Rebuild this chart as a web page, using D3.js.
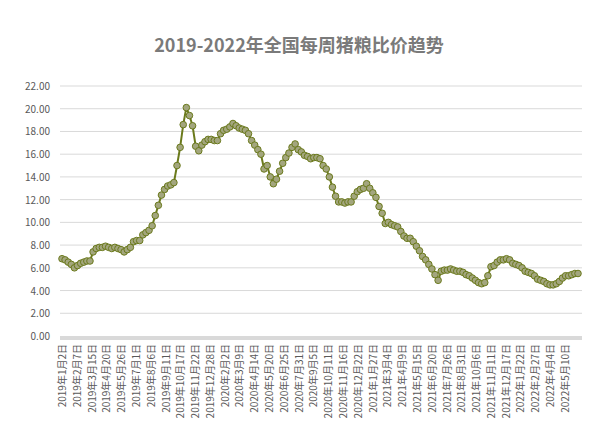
<!DOCTYPE html>
<html><head><meta charset="utf-8">
<script src="https://cdn.jsdelivr.net/npm/d3@7"></script>
<style>body{margin:0;background:#fff}</style>
</head><body><svg id="c" width="598" height="435"></svg>
<script>
const title = "2019-2022年全国每周猪粮比价趋势";
const values = [6.8,6.7,6.5,6.3,6.0,6.2,6.4,6.5,6.6,6.6,7.4,7.7,7.8,7.8,7.9,7.8,7.7,7.8,7.7,7.6,7.4,7.6,7.8,8.3,8.4,8.4,8.9,9.1,9.3,9.7,
10.6,11.5,12.4,12.9,13.2,13.3,13.5,15.0,16.6,18.6,20.1,19.4,18.5,16.7,16.3,16.8,17.1,17.3,17.3,17.2,17.2,17.8,18.1,
18.2,18.4,18.7,18.5,18.3,18.2,18.1,17.8,17.2,16.8,16.4,16.0,14.7,15.0,14.0,13.4,13.8,14.5,15.2,15.7,16.1,16.6,16.9,16.4,16.2,15.9,
15.8,15.6,15.7,15.7,15.6,15.0,14.7,14.0,13.1,12.3,11.8,11.8,11.7,11.8,11.8,12.3,12.7,12.9,13.0,13.4,13.0,12.6,12.2,11.4,10.8,9.9,
10.0,9.8,9.7,9.6,9.2,8.8,8.6,8.6,8.3,7.9,7.5,7.0,6.7,6.3,5.9,5.4,4.9,5.7,5.8,5.8,5.9,5.8,5.7,5.7,5.6,5.4,5.3,5.1,4.9,4.7,4.6,4.7,
5.3,6.1,6.2,6.5,6.7,6.7,6.8,6.7,6.4,6.3,6.2,6.0,5.7,5.6,5.5,5.3,5.0,4.9,4.8,4.6,4.5,4.5,4.6,4.8,5.1,5.3,5.3,5.4,5.5,5.5];
const tickLabels = ["2019年1月2日","2019年2月7日","2019年3月15日","2019年4月20日","2019年5月26日","2019年7月1日","2019年8月6日",
"2019年9月11日","2019年10月17日","2019年11月22日","2019年12月28日","2020年2月2日","2020年3月9日","2020年4月14日","2020年5月20日",
"2020年6月25日","2020年7月31日","2020年9月5日","2020年10月11日","2020年11月16日","2020年12月22日","2021年1月27日","2021年3月4日",
"2021年4月9日","2021年5月15日","2021年6月20日","2021年7月26日","2021年8月31日","2021年10月6日","2021年11月11日","2021年12月17日",
"2022年1月22日","2022年2月27日","2022年4月4日","2022年5月10日"];
const startDate = new Date(2019, 0, 2);
const tickDays = 36;     // spacing of date labels
const spanDays = 1256;   // days covered by the series
const yTicks = d3.range(0, 22.01, 2);

const svg = d3.select("#c");
const font = "'Microsoft YaHei','Noto Sans CJK SC',sans-serif";
const L = 60, R = 582, T = 86, B = 336;

const x = d3.scaleLinear().domain([0, values.length - 1]).range([L + 2, R - 4]);
const xt = d3.scaleTime().domain([startDate, d3.timeDay.offset(startDate, spanDays)]).range([L + 2, R - 4]);
const y = d3.scaleLinear().domain([0, 22]).range([B, T]);

svg.append("text").attr("x", 299).attr("y", 52).attr("text-anchor", "middle")
  .attr("font-family", font).attr("font-size", 18).attr("font-weight", "bold")
  .attr("fill", "#7a7a7a").text(title);

// gridlines
svg.append("g").selectAll("line").data(yTicks.slice(1)).join("line")
  .attr("x1", L).attr("x2", R).attr("y1", d => y(d)).attr("y2", d => y(d))
  .attr("stroke", "#d9d9d9").attr("stroke-width", 1);

svg.append("g").selectAll("text").data(yTicks).join("text")
  .attr("x", L - 10).attr("y", d => y(d) + 4).attr("text-anchor", "end")
  .attr("font-family", font).attr("font-size", 10).attr("fill", "#595959")
  .text(d => d.toFixed(2));

// axis band
svg.append("rect").attr("x", L).attr("y", B).attr("width", R - L).attr("height", 4).attr("fill", "#d9d9d9");

svg.append("g").selectAll("text").data(tickLabels).join("text")
  .attr("transform", (d, i) => `translate(${xt(d3.timeDay.offset(startDate, i * tickDays)) + 4},${B + 8}) rotate(-90)`)
  .attr("text-anchor", "end").attr("font-family", font).attr("font-size", 10).attr("fill", "#595959")
  .text(d => d);

const line = d3.line().x((d, i) => x(i)).y(d => y(d));
svg.append("path").datum(values).attr("d", line).attr("fill", "none")
  .attr("stroke", "#6b7a1c").attr("stroke-width", 2);

svg.append("g").selectAll("circle").data(values).join("circle")
  .attr("cx", (d, i) => x(i)).attr("cy", d => y(d)).attr("r", 3.3)
  .attr("fill", "#a3a67e").attr("stroke", "#6b7a1c").attr("stroke-width", 1);
</script></body></html>
